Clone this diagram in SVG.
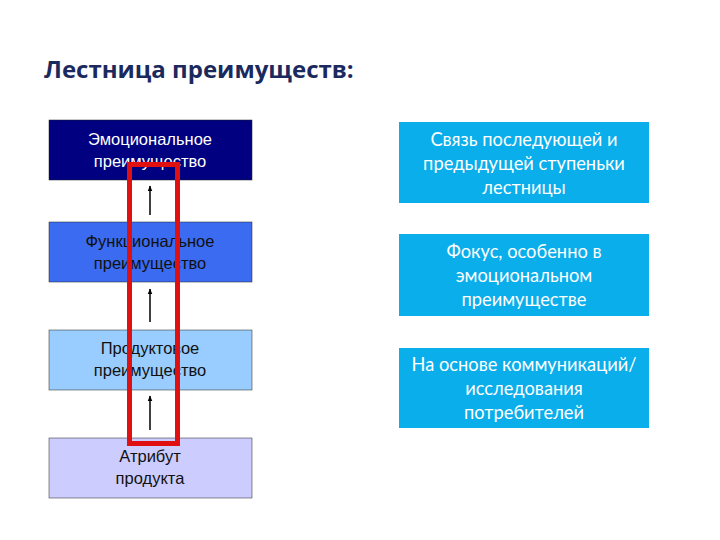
<svg xmlns="http://www.w3.org/2000/svg" width="720" height="540" viewBox="0 0 720 540">
<defs>
<style>
.title{font-family:"Open Sans","Liberation Sans",sans-serif;font-weight:bold;font-size:24px;fill:#1b2a5e}
.lt{font-family:"Liberation Sans",Arial,sans-serif;font-size:16.5px;text-anchor:middle;fill:#111}
.rt{font-family:Lato,"Open Sans",sans-serif;font-size:18.3px;text-anchor:middle;fill:#fff}
.rb{fill:#0aaeea}
.ar{stroke:#000;stroke-width:1.5;fill:none;marker-end:url(#ah)}
</style>
<marker id="ah" viewBox="0 0 10 10" refX="9" refY="5" markerWidth="6" markerHeight="6" orient="auto" markerUnits="userSpaceOnUse">
<path d="M0,1 L10,5 L0,9 z" fill="#000"/>
</marker>
</defs>
<rect width="720" height="540" fill="#fff"/>
<text class="title" x="44" y="78">Лестница преимуществ:</text>
<g id="n1"><rect x="49" y="120" width="203" height="60" fill="#000080" stroke="#222" stroke-width="0.5"/><text class="lt" x="150" y="145" style="fill:#fff">Эмоциональное</text><text class="lt" x="150" y="167" style="fill:#fff">преимущество</text></g>
<g id="n2"><rect x="49" y="222" width="203" height="60" fill="#3b6bf0" stroke="#222" stroke-width="0.5"/><text class="lt" x="150" y="247">Функциональное</text><text class="lt" x="150" y="269">преимущество</text></g>
<g id="n3"><rect x="49" y="330" width="203" height="60" fill="#99ccff" stroke="#222" stroke-width="0.5"/><text class="lt" x="150" y="354">Продуктовое</text><text class="lt" x="150" y="376">преимущество</text></g>
<g id="n4"><rect x="49" y="438" width="203" height="60" fill="#ccccff" stroke="#222" stroke-width="0.5"/><text class="lt" x="150" y="462">Атрибут</text><text class="lt" x="150" y="484">продукта</text></g>
<g id="connectors">
<line class="ar" x1="150" y1="215" x2="150" y2="186"/>
<line class="ar" x1="150" y1="322" x2="150" y2="289"/>
<line class="ar" x1="150" y1="430" x2="150" y2="396"/>
</g>
<g id="highlight"><rect x="129.5" y="164.5" width="48" height="279" fill="none" stroke="#e01010" stroke-width="5"/></g>
<g id="r1"><rect class="rb" x="399" y="122" width="250" height="81"/><text class="rt" x="524" y="146">Связь последующей и</text><text class="rt" x="524" y="170">предыдущей ступеньки</text><text class="rt" x="524" y="194">лестницы</text></g>
<g id="r2"><rect class="rb" x="399" y="234" width="250" height="82"/><text class="rt" x="524" y="258">Фокус, особенно в</text><text class="rt" x="524" y="282">эмоциональном</text><text class="rt" x="524" y="306">преимуществе</text></g>
<g id="r3"><rect class="rb" x="399" y="348" width="250" height="80"/><text class="rt" x="524" y="371">На основе коммуникаций/</text><text class="rt" x="524" y="395">исследования</text><text class="rt" x="524" y="419">потребителей</text></g>
</svg>
